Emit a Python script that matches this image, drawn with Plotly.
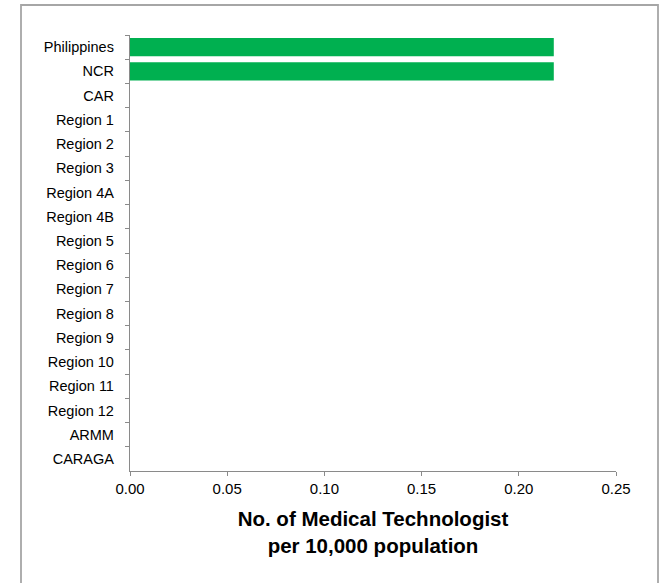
import plotly.graph_objects as go

regions = ["Philippines", "NCR", "CAR", "Region 1", "Region 2", "Region 3",
           "Region 4A", "Region 4B", "Region 5", "Region 6", "Region 7",
           "Region 8", "Region 9", "Region 10", "Region 11", "Region 12",
           "ARMM", "CARAGA"]
values = [0.218, 0.218, 0, 0, 0, 0, 0, 0, 0, 0, 0, 0, 0, 0, 0, 0, 0, 0]
x_ticks = [0.00, 0.05, 0.10, 0.15, 0.20, 0.25]
x_tick_labels = ["0.00", "0.05", "0.10", "0.15", "0.20", "0.25"]

W, H = 661, 583
L, R, T, B = 130, 45, 35, 112
pw = W - L - R
ph = H - T - B

fig = go.Figure(go.Bar(
    x=values, y=regions, orientation="h",
    marker=dict(color="#00b050", line=dict(width=0)),
    hoverinfo="x+y",
))

axis_col = "#8a8a8a"
font = "Liberation Sans, Arial, sans-serif"

fig.update_layout(
    width=W, height=H,
    margin=dict(l=L, r=R, t=T, b=B, pad=0),
    paper_bgcolor="white", plot_bgcolor="white",
    bargap=0.24,
    showlegend=False,
    font=dict(family=font, color="#000000", size=15),
    xaxis=dict(
        range=[0, 0.25], tickvals=x_ticks, ticktext=x_tick_labels,
        showgrid=False, zeroline=False,
        showline=True, linecolor=axis_col, linewidth=1.3,
        ticks="outside", ticklen=4, tickcolor=axis_col, tickwidth=1.3,
        tickfont=dict(size=15, family=font),
        title=dict(text="<b>No. of Medical Technologist<br>per 10,000 population</b>",
                   font=dict(size=20.5, family=font), standoff=15),
    ),
    yaxis=dict(
        autorange="reversed",
        showgrid=False, zeroline=False,
        showline=True, linecolor=axis_col, linewidth=1.3,
        ticks="outside", ticklen=4, tickcolor=axis_col, tickwidth=1.3,
        tickson="boundaries",
        tickfont=dict(size=14.5, family=font),
        ticklabelstandoff=12,
    ),
    shapes=[dict(
        type="rect", xref="paper", yref="paper",
        x0=(21 - L) / pw, x1=(658 - L) / pw,
        y0=-0.5, y1=(H - B - 5) / ph,
        line=dict(color="#a6a6a6", width=1.8), fillcolor="rgba(0,0,0,0)",
        layer="below",
    )],
)

fig.write_html("out.html",
               config={"displayModeBar": False},
               post_script="document.body.style.margin='0';document.body.style.overflow='hidden';")
